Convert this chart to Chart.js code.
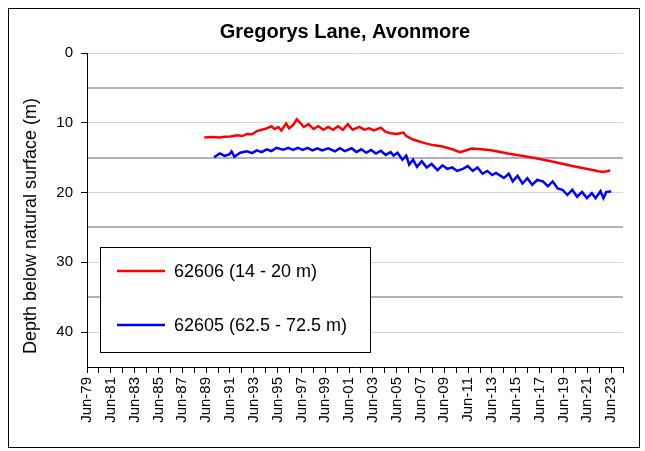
<!DOCTYPE html>
<html lang="en">
<head>
  <meta charset="UTF-8">
  <title>Gregorys Lane, Avonmore</title>
  <script src="https://cdn.jsdelivr.net/npm/chart.js"></script>
  <style>
    body {
      margin: 0;
      padding: 0;
      background: #fff;
      overflow: hidden;
    }
    #wrap {
      width: 645px;
      height: 451px;
    }
  </style>
</head>
<body>
  <div id="wrap">
    <canvas id="chart" width="645" height="451"></canvas>
  </div>

  <script>
    const chartTitle = 'Gregorys Lane, Avonmore';
    const yTitle = 'Depth below natural surface (m)';
    const seriesNames = ['62606 (14 - 20 m)', '62605 (62.5 - 72.5 m)'];

    const xTickLabels = ['Jun-79', 'Jun-81', 'Jun-83', 'Jun-85', 'Jun-87', 'Jun-89', 'Jun-91', 'Jun-93',
      'Jun-95', 'Jun-97', 'Jun-99', 'Jun-01', 'Jun-03', 'Jun-05', 'Jun-07', 'Jun-09', 'Jun-11',
      'Jun-13', 'Jun-15', 'Jun-17', 'Jun-19', 'Jun-21', 'Jun-23'];
    const yTickLabels = ['0', '10', '20', '30', '40'];

    // 62606 - shallow bore (decimal years, depth m)
    const redYears = [1989.34, 1989.9, 1990.65, 1991.06, 1991.55, 1992.12, 1992.53, 1992.94, 1993.35,
      1993.76, 1994.17, 1994.58, 1994.99, 1995.24, 1995.57, 1995.81, 1996.22, 1996.47, 1996.8,
      1997.12, 1997.45, 1997.7, 1998.1, 1998.52, 1998.93, 1999.34, 1999.75, 2000.16, 2000.57,
      2000.98, 2001.39, 2001.8, 2002.37, 2002.78, 2003.19, 2003.6, 2004.17, 2004.58, 2004.99,
      2005.48, 2006.06, 2006.3, 2006.88, 2007.7, 2008.52, 2009.34, 2010.16, 2010.81, 2011.22,
      2011.8, 2012.61, 2013.43, 2014.83, 2016.14, 2017.53, 2018.93, 2020.24, 2021.63, 2022.45,
      2022.86, 2023.43];
    const redDepth = [12.1, 12.05, 12.1, 12.0, 11.95, 11.8, 11.9, 11.6, 11.65,
      11.2, 11.0, 10.8, 10.5, 10.9, 10.6, 11.1, 10.1, 10.8, 10.3,
      9.5, 10.1, 10.6, 10.2, 10.9, 10.5, 11.0, 10.6, 11.0, 10.5,
      11.0, 10.2, 11.0, 10.6, 11.0, 10.8, 11.1, 10.7, 11.3, 11.5,
      11.6, 11.4, 11.9, 12.4, 12.85, 13.2, 13.4, 13.8, 14.2, 14.0,
      13.7, 13.8, 13.95, 14.4, 14.75, 15.2, 15.7, 16.2, 16.65, 16.95,
      17.05, 16.85];

    // 62605 - deep bore
    const blueYears = [1990.16, 1990.65, 1991.06, 1991.47, 1991.63, 1991.88, 1992.37, 1992.94, 1993.35,
      1993.76, 1994.17, 1994.58, 1994.99, 1995.4, 1995.98, 1996.39, 1996.8, 1997.2, 1997.61,
      1998.02, 1998.43, 1998.84, 1999.25, 1999.75, 2000.32, 2000.73, 2001.14, 2001.72, 2002.12,
      2002.53, 2002.94, 2003.35, 2003.76, 2004.17, 2004.58, 2004.99, 2005.24, 2005.57, 2005.98,
      2006.3, 2006.55, 2006.88, 2007.2, 2007.61, 2008.02, 2008.43, 2008.93, 2009.34, 2009.75,
      2010.16, 2010.57, 2011.06, 2011.47, 2011.88, 2012.29, 2012.7, 2013.11, 2013.52, 2013.84,
      2014.5, 2014.91, 2015.24, 2015.65, 2016.06, 2016.47, 2016.88, 2017.29, 2017.78, 2018.19,
      2018.6, 2019.01, 2019.42, 2019.83, 2020.24, 2020.65, 2021.06, 2021.47, 2021.88, 2022.2,
      2022.61, 2022.86, 2023.1, 2023.51];
    const blueDepth = [14.95, 14.4, 14.75, 14.5, 14.1, 14.85, 14.3, 14.1, 14.35,
      13.95, 14.2, 13.8, 14.05, 13.6, 13.85, 13.6, 13.9, 13.6, 13.9,
      13.6, 13.95, 13.65, 13.95, 13.65, 14.1, 13.65, 14.05, 13.65, 14.2,
      13.8, 14.3, 13.9, 14.4, 14.0, 14.6, 14.2, 14.7, 14.3, 15.3,
      14.7, 16.0, 15.3, 16.3, 15.5, 16.4, 15.9, 16.8, 16.1, 16.6,
      16.4, 16.9, 16.6, 16.2, 16.9, 16.4, 17.3, 16.9, 17.5, 17.2,
      17.9, 17.3, 18.4, 17.6, 18.7, 17.95, 18.9, 18.2, 18.4, 19.1,
      18.4, 19.4, 19.6, 20.35, 19.6, 20.6, 19.9, 20.8, 20.1, 20.8,
      19.8, 20.8, 19.9, 19.85];

    const font = "'Liberation Sans', Arial, sans-serif";
    Chart.defaults.color = '#000';
    Chart.defaults.font.family = font;

    function toPoints(xs, ys) {
      return xs.map((x, i) => ({ x: x, y: ys[i] }));
    }

    // title, y title, legend box and outer frame
    const extras = {
      id: 'extras',
      afterDraw(chart) {
        const ctx = chart.ctx;
        ctx.save();
        ctx.strokeStyle = '#000';
        ctx.lineWidth = 1;
        ctx.strokeRect(8.5, 8.5, 631, 439);

        ctx.fillStyle = '#000';
        ctx.textAlign = 'center';
        ctx.textBaseline = 'middle';
        ctx.font = 'bold 20px ' + font;
        ctx.fillText(chartTitle, 345, 32);

        ctx.save();
        ctx.translate(31, 226);
        ctx.rotate(-Math.PI / 2);
        ctx.font = '18px ' + font;
        ctx.fillText(yTitle, 0, 0);
        ctx.restore();

        // legend
        ctx.fillStyle = '#fff';
        ctx.fillRect(100, 247, 270, 105);
        ctx.strokeStyle = '#000';
        ctx.strokeRect(100.5, 247.5, 270, 105);
        const rows = [271, 325];
        chart.data.datasets.forEach((ds, i) => {
          ctx.strokeStyle = ds.borderColor;
          ctx.lineWidth = ds.borderWidth;
          ctx.beginPath();
          ctx.moveTo(117, rows[i]);
          ctx.lineTo(165, rows[i]);
          ctx.stroke();
          ctx.fillStyle = '#000';
          ctx.textAlign = 'left';
          ctx.font = '18px ' + font;
          ctx.fillText(ds.label, 174, rows[i] + 1);
        });
        ctx.restore();
      }
    };

    new Chart(document.getElementById('chart'), {
      type: 'line',
      data: {
        datasets: [{
          label: seriesNames[0],
          data: toPoints(redYears, redDepth),
          borderColor: '#ff0000',
          borderWidth: 2.5,
          pointRadius: 0,
          tension: 0
        }, {
          label: seriesNames[1],
          data: toPoints(blueYears, blueDepth),
          borderColor: '#0000ff',
          borderWidth: 2.5,
          pointRadius: 0,
          tension: 0
        }]
      },
      options: {
        responsive: false,
        animation: false,
        devicePixelRatio: 1,
        layout: { padding: { left: 0, top: 53, right: 9, bottom: 24 } },
        plugins: {
          legend: { display: false },
          title: { display: false },
          tooltip: { enabled: false }
        },
        scales: {
          x: {
            type: 'linear',
            min: 1979.5,
            max: 2024.5,
            afterBuildTicks: axis => {
              const t = [];
              for (let v = 1979.5; v <= 2024.5; v += 1) t.push({ value: v });
              axis.ticks = t;
            },
            afterFit: axis => { axis.height = 60; },
            grid: {
              drawOnChartArea: false,
              drawTicks: true,
              tickLength: 6,
              tickColor: '#000'
            },
            border: { color: '#000', width: 1 },
            ticks: {
              autoSkip: false,
              minRotation: 90,
              maxRotation: 90,
              padding: 4,
              font: { size: 15 },
              callback: (v, i) => (i % 2 === 0 && xTickLabels[i / 2]) ? xTickLabels[i / 2] : ''
            }
          },
          y: {
            min: 0,
            max: 45,
            reverse: true,
            afterBuildTicks: axis => {
              const t = [];
              for (let v = 0; v <= 45; v += 5) t.push({ value: v });
              axis.ticks = t;
            },
            afterFit: axis => { axis.width = 87; },
            grid: {
              color: c => c.tick.value === 45 ? 'rgba(0,0,0,0)' : (c.tick.value % 10 === 5 ? '#b3b3b3' : '#d6d6d6'),
              lineWidth: c => c.tick.value % 10 === 5 ? 2 : 1,
              tickLength: 6,
              tickColor: c => (c.tick.value % 10 === 0 && c.tick.value < 45) ? '#000' : 'rgba(0,0,0,0)'
            },
            border: { color: '#000', width: 1 },
            ticks: {
              padding: 8,
              font: { size: 15 },
              callback: v => (v % 10 === 0 && yTickLabels[v / 10]) ? yTickLabels[v / 10] : ''
            }
          }
        }
      },
      plugins: [extras]
    });
  </script>
</body>
</html>
